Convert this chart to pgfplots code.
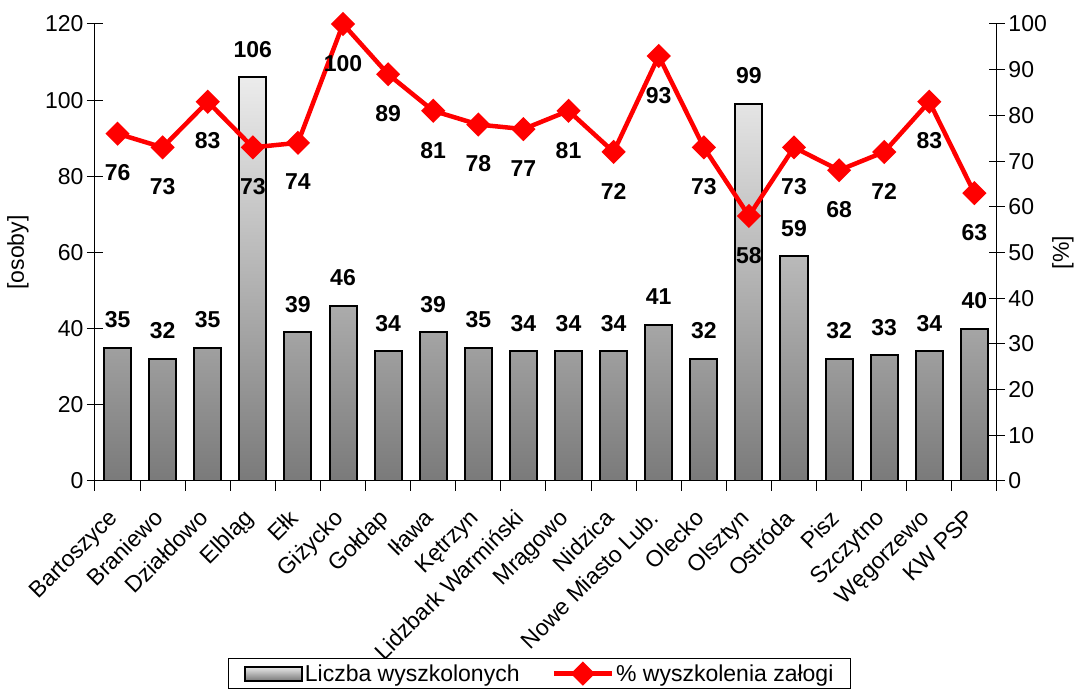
\documentclass[border=0pt]{standalone}
\usepackage{pgfplots}
\pgfplotsset{compat=1.18}
\usepackage{fontspec}
\setmainfont{Liberation Sans}

\definecolor{barlight}{RGB}{236,236,236}
\definecolor{bardark}{RGB}{122,122,122}
\newcommand{\chfont}{\fontsize{23}{27}\selectfont}
\pgfplotsset{
  linelegend/.style={legend image code/.code={%
    \draw[##1, mark repeat=2, mark phase=2] plot coordinates {(0pt,0pt) (29pt,0pt) (58pt,0pt)};}},
  barlegend/.style={legend image code/.code={%
    \draw[top color=barlight, bottom color=bardark, draw=black, line width=2pt] (0pt,-7pt) rectangle (57pt,7pt);}},
}

\begin{document}
\begin{tikzpicture}
\pgfplotsset{
  every axis/.append style={
    width=902pt, height=457pt, scale only axis,
    xmin=-0.5, xmax=19.5,
    /pgf/number format/assume math mode=true,
    tick label style={font=\chfont},
    label style={font=\chfont},
    axis line style={line width=1pt},
    tick style={line width=1pt, black},
    tick align=center,
    major tick length=16pt,
    minor tick length=10pt,
  }
}
% bars: number of trained people
\begin{axis}[
  axis x line*=bottom, axis y line*=left,
  ymin=0, ymax=120, ytick={0,20,...,120},
  ybar, bar width=0.6,
  xtick={0,...,19},
  xticklabels={Bartoszyce, Braniewo, Działdowo, Elbląg, Ełk, Giżycko, Gołdap, Iława, Kętrzyn, Lidzbark Warmiński, Mrągowo, Nidzica, Nowe Miasto Lub., Olecko, Olsztyn, Ostróda, Pisz, Szczytno, Węgorzewo, KW PSP},
  major x tick style={draw=none},
  minor xtick={-0.5,0.5,...,19.5},
  xticklabel style={xshift=-10pt, yshift=-8pt, rotate=45, anchor=north east, inner sep=2pt},
  ylabel={[osoby]},
  ylabel style={at={(rel axis cs:0,0.5)}, yshift=77pt, anchor=center},
]
\addplot[draw=black, line width=2pt, top color=barlight, bottom color=bardark,
  nodes near coords,
  nodes near coords style={font=\chfont\bfseries, anchor=south, inner sep=0pt, yshift=19pt}]
  coordinates {
  (0,35) (1,32) (2,35) (3,106) (4,39) (5,46) (6,34) (7,39) (8,35) (9,34)
  (10,34) (11,34) (12,41) (13,32) (14,99) (15,59) (16,32) (17,33) (18,34) (19,40)
};
\end{axis}
% line: share of trained staff
\begin{axis}[
  axis y line*=right, axis x line=none,
  ymin=0, ymax=100, ytick={0,10,...,100},
  ylabel={[\%]},
  ylabel style={at={(rel axis cs:1,0.5)}, yshift=-66pt, anchor=center},
  legend columns=2,
  legend style={at={(rel axis cs:0.493,0)}, anchor=north, yshift=-177pt,
    draw=black, line width=1pt, font=\chfont, inner xsep=15pt, inner ysep=4pt,
    /tikz/every even column/.append style={column sep=30pt}},
]
\addlegendimage{barlegend}
\addlegendentry{Liczba wyszkolonych}
\addplot[red, line width=4.5pt, mark=square*, mark size=6.3pt, mark options={rotate=45, solid},
  linelegend,
  nodes near coords,
  nodes near coords style={font=\chfont\bfseries, black, anchor=north, inner sep=0pt, yshift=-29pt}]
  coordinates {
  (0,76) (1,73) (2,83) (3,73) (4,74) (5,100) (6,89) (7,81) (8,78) (9,77)
  (10,81) (11,72) (12,93) (13,73) (14,58) (15,73) (16,68) (17,72) (18,83) (19,63)
};
\addlegendentry{\% wyszkolenia załogi}
\end{axis}
\useasboundingbox (-95pt,-206pt) rectangle (982pt,481pt);
\end{tikzpicture}
\end{document}
